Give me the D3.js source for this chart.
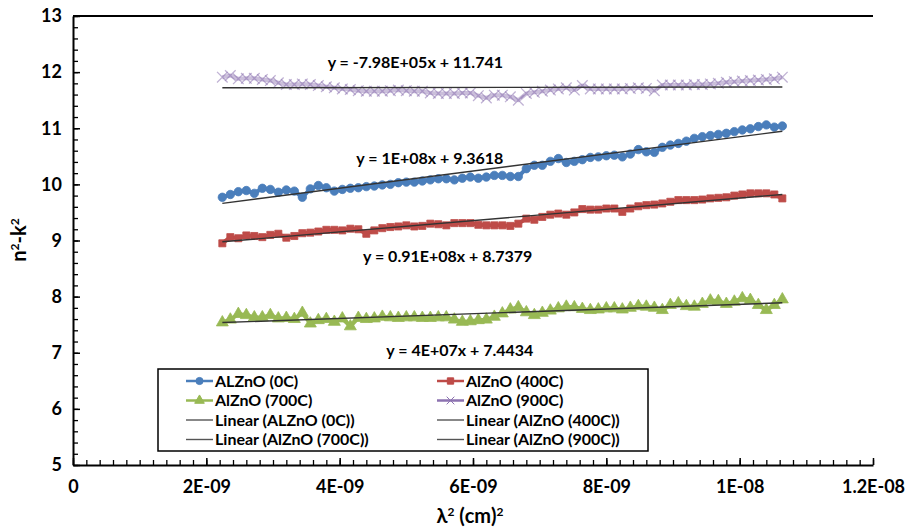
<!DOCTYPE html>
<html>
<head>
<meta charset="utf-8">
<script src="https://cdnjs.cloudflare.com/ajax/libs/d3/7.8.5/d3.min.js"></script>
<style>
body { margin: 0; background: #fff; }
text { font-family: Lato, "Open Sans", sans-serif; font-weight: bold; fill: #000; }
</style>
</head>
<body>
<script>

// lambda^2 (cm^2), shared by all four samples
var lambda2 = [2.24e-9,2.36e-9,2.48e-9,2.60e-9,2.72e-9,2.84e-9,2.96e-9,3.08e-9,3.20e-9,3.32e-9,
  3.44e-9,3.56e-9,3.68e-9,3.80e-9,3.92e-9,4.04e-9,4.16e-9,4.28e-9,4.40e-9,4.52e-9,
  4.64e-9,4.76e-9,4.88e-9,5.00e-9,5.12e-9,5.24e-9,5.36e-9,5.48e-9,5.60e-9,5.72e-9,
  5.84e-9,5.96e-9,6.08e-9,6.20e-9,6.32e-9,6.44e-9,6.56e-9,6.68e-9,6.80e-9,6.92e-9,
  7.04e-9,7.16e-9,7.28e-9,7.40e-9,7.52e-9,7.64e-9,7.76e-9,7.88e-9,8.00e-9,8.12e-9,
  8.24e-9,8.36e-9,8.48e-9,8.60e-9,8.72e-9,8.84e-9,8.96e-9,9.08e-9,9.20e-9,9.32e-9,
  9.44e-9,9.56e-9,9.68e-9,9.80e-9,9.92e-9,10.04e-9,10.16e-9,10.28e-9,10.40e-9,10.52e-9,
  10.64e-9];

var azo0 = [9.77,9.82,9.87,9.89,9.84,9.93,9.91,9.86,9.90,9.88,
  9.77,9.92,9.98,9.94,9.88,9.91,9.93,9.94,9.96,9.97,
  9.99,10.00,10.03,10.04,10.04,10.06,10.08,10.10,10.10,10.08,
  10.11,10.13,10.11,10.13,10.16,10.16,10.14,10.14,10.28,10.34,
  10.34,10.41,10.46,10.39,10.41,10.44,10.48,10.49,10.51,10.52,
  10.49,10.54,10.62,10.58,10.57,10.66,10.70,10.73,10.77,10.82,
  10.85,10.87,10.89,10.91,10.94,10.97,10.99,11.03,11.06,11.02,
  11.04];

var azo400 = [8.95,9.06,9.04,9.09,9.08,9.06,9.10,9.12,9.05,9.08,
  9.13,9.14,9.16,9.19,9.19,9.18,9.21,9.20,9.12,9.18,
  9.22,9.24,9.25,9.27,9.25,9.26,9.30,9.29,9.27,9.31,
  9.31,9.31,9.28,9.27,9.27,9.27,9.26,9.30,9.39,9.37,
  9.42,9.46,9.48,9.46,9.50,9.56,9.55,9.55,9.57,9.57,
  9.51,9.57,9.61,9.63,9.64,9.66,9.69,9.72,9.72,9.72,
  9.73,9.75,9.76,9.77,9.80,9.82,9.84,9.84,9.84,9.82,
  9.75];

var azo700 = [7.54,7.59,7.69,7.67,7.63,7.63,7.67,7.61,7.62,7.60,
  7.71,7.52,7.58,7.60,7.55,7.61,7.47,7.62,7.60,7.61,
  7.64,7.63,7.62,7.63,7.63,7.62,7.62,7.63,7.63,7.59,
  7.55,7.56,7.58,7.59,7.64,7.70,7.77,7.81,7.72,7.67,
  7.71,7.75,7.79,7.82,7.81,7.78,7.76,7.77,7.79,7.79,
  7.77,7.80,7.83,7.82,7.80,7.76,7.85,7.88,7.83,7.82,
  7.87,7.93,7.92,7.87,7.91,7.97,7.94,7.85,7.76,7.85,
  7.95];

var azo900 = [11.91,11.94,11.88,11.89,11.89,11.87,11.85,11.81,11.78,11.78,
  11.79,11.78,11.76,11.74,11.72,11.70,11.69,11.67,11.66,11.66,
  11.66,11.67,11.68,11.67,11.66,11.66,11.63,11.62,11.62,11.62,
  11.63,11.63,11.58,11.54,11.59,11.59,11.56,11.50,11.62,11.64,
  11.66,11.68,11.70,11.72,11.68,11.76,11.70,11.70,11.70,11.70,
  11.70,11.71,11.72,11.71,11.67,11.77,11.77,11.77,11.77,11.78,
  11.78,11.79,11.80,11.82,11.83,11.84,11.85,11.86,11.87,11.88,
  11.91];

var seriesNames = ["ALZnO (0C)", "AlZnO (400C)", "AlZnO (700C)", "AlZnO (900C)"];
var equations = ["y = 1E+08x + 9.3618", "y = 0.91E+08x + 8.7379", "y = 4E+07x + 7.4434", "y = -7.98E+05x + 11.741"];

var yTicks = [5, 6, 7, 8, 9, 10, 11, 12, 13];
var xTicks = [0, 2e-9, 4e-9, 6e-9, 8e-9, 1e-8, 1.2e-8];
var xTickLabels = ["0", "2E-09", "4E-09", "6E-09", "8E-09", "1E-08", "1.2E-08"];

var width = 918, height = 532;
var svg = d3.select("body").append("svg").attr("width", width).attr("height", height);

var x = d3.scaleLinear().domain([0, 1.2e-8]).range([73, 873]);
var y = d3.scaleLinear().domain([5, 13]).range([465, 16]);

var series = [
  { name: seriesNames[0], values: azo0,   color: "#4a7ebb", symbol: d3.symbolCircle,   size: 56, eq: equations[0], at: [4.25e-9, 10.47] },
  { name: seriesNames[1], values: azo400, color: "#be4b48", symbol: d3.symbolSquare,   size: 50, eq: equations[1], at: [4.35e-9, 8.72] },
  { name: seriesNames[2], values: azo700, color: "#98b954", symbol: d3.symbolTriangle, size: 62, eq: equations[2], at: [4.7e-9, 7.05] },
  { name: seriesNames[3], values: azo900, color: "#8c72b0", symbol: d3.symbolX,        size: 75, eq: equations[3], at: [3.82e-9, 12.18] }
];
function isX(s) { return s.symbol === d3.symbolX; }

// minor ticks
svg.append("g").attr("transform", "translate(73,0)")
  .call(d3.axisLeft(y).tickValues(d3.range(5, 13.01, 0.2)).tickSize(-5).tickFormat(""))
  .call(function(g){ g.select(".domain").remove(); g.selectAll("line").attr("stroke", "#000").attr("stroke-width", 1.3); });
svg.append("g").attr("transform", "translate(0,465)")
  .call(d3.axisBottom(x).tickValues(d3.range(0, 61).map(function(i){ return i * 2e-10; })).tickSize(-5).tickFormat(""))
  .call(function(g){ g.select(".domain").remove(); g.selectAll("line").attr("stroke", "#000").attr("stroke-width", 1.3); });

// main axes
var yAxis = svg.append("g").attr("transform", "translate(73,0)")
  .call(d3.axisLeft(y).tickValues(yTicks).tickSizeInner(-7).tickSizeOuter(0).tickPadding(11).tickFormat(d3.format("d")));
var xAxis = svg.append("g").attr("transform", "translate(0,465)")
  .call(d3.axisBottom(x).tickValues(xTicks).tickSizeInner(-7).tickSizeOuter(0).tickPadding(15)
    .tickFormat(function(d, i){ return xTickLabels[i]; }));
[yAxis, xAxis].forEach(function(a){
  a.select(".domain").attr("stroke", "#000").attr("stroke-width", 2);
  a.selectAll(".tick line").attr("stroke", "#000").attr("stroke-width", 1.5);
  a.selectAll("text").style("font-size", "18px").style("font-family", "Lato, sans-serif").style("font-weight", "bold");
});
// top border of plot area
svg.append("line").attr("x1", x(0)).attr("x2", x(1.2e-8)).attr("y1", y(13)).attr("y2", y(13))
  .attr("stroke", "#000").attr("stroke-width", 2);

// series: line + markers
var line = d3.line().x(function(d){ return x(d[0]); }).y(function(d){ return y(d[1]); });
series.forEach(function(s){
  var pts = lambda2.map(function(l, i){ return [l, s.values[i]]; });
  var g = svg.append("g");
  g.append("path").datum(pts).attr("d", line).attr("fill", "none")
    .attr("stroke", s.color).attr("stroke-width", isX(s) ? 4 : 4).attr("stroke-opacity", isX(s) ? 0.45 : 1)
    .attr("stroke-linejoin", "round");
  g.selectAll("path.pt").data(pts).enter().append("path").attr("class", "pt")
    .attr("transform", function(d){ return "translate(" + x(d[0]) + "," + y(d[1]) + ")"; })
    .attr("d", d3.symbol().type(s.symbol).size(s.size))
    .attr("fill", isX(s) ? "none" : s.color)
    .attr("stroke", s.color)
    .attr("stroke-width", isX(s) ? 1.3 : 0.8)
    .attr("stroke-opacity", isX(s) ? 0.55 : 1);
});

// linear trendlines (least squares on the plotted data)
series.forEach(function(s){
  var mx = d3.mean(lambda2), my = d3.mean(s.values);
  var sxy = d3.sum(lambda2, function(l, i){ return (l - mx) * (s.values[i] - my); });
  var sxx = d3.sum(lambda2, function(l){ return (l - mx) * (l - mx); });
  var b = sxy / sxx, a = my - b * mx;
  var x0 = d3.min(lambda2), x1 = d3.max(lambda2);
  svg.append("line")
    .attr("x1", x(x0)).attr("y1", y(a + b * x0))
    .attr("x2", x(x1)).attr("y2", y(a + b * x1))
    .attr("stroke", "#333").attr("stroke-width", 1.4);
  svg.append("text").attr("x", x(s.at[0])).attr("y", y(s.at[1])).attr("dy", "0.35em")
    .style("font-size", "16px").text(s.eq);
});

// axis titles
svg.append("text").attr("x", 470).attr("y", 523).attr("text-anchor", "middle").style("font-size", "20px")
  .html("λ<tspan dy='-7' font-size='12px'>2</tspan><tspan dy='7'> (cm)</tspan><tspan dy='-7' font-size='12px'>2</tspan>");
svg.append("text").attr("transform", "translate(26,240) rotate(-90)").attr("text-anchor", "middle").style("font-size", "20px")
  .html("n<tspan dy='-7' font-size='12px'>2</tspan><tspan dy='7'>-k</tspan><tspan dy='-7' font-size='12px'>2</tspan>");

// legend
var legend = svg.append("g");
legend.append("rect").attr("x", 158).attr("y", 369).attr("width", 490).attr("height", 82)
  .attr("fill", "#fff").attr("stroke", "#000").attr("stroke-width", 1.5);
var legendItems = series.map(function(s){ return { label: s.name, s: s, trend: false }; })
  .concat(series.map(function(s){ return { label: "Linear (" + s.name + ")", s: s, trend: true }; }));
legendItems.forEach(function(it, i){
  var col = i % 2, row = Math.floor(i / 2);
  var lx = col === 0 ? 186 : 437, ly = 381 + row * 19.5;
  var g = legend.append("g").attr("transform", "translate(" + lx + "," + ly + ")");
  if (it.trend) {
    g.append("line").attr("x1", 0).attr("x2", 27).attr("stroke", "#555").attr("stroke-width", 1.4);
  } else {
    g.append("line").attr("x1", 0).attr("x2", 27).attr("stroke", it.s.color).attr("stroke-width", 2.5);
    g.append("path").attr("transform", "translate(13.5,0)").attr("d", d3.symbol().type(it.s.symbol).size(40))
      .attr("fill", isX(it.s) ? "none" : it.s.color).attr("stroke", it.s.color);
  }
  g.append("text").attr("x", 29).attr("dy", "0.36em").style("font-size", "16px").text(it.label);
});

</script>
</body>
</html>
